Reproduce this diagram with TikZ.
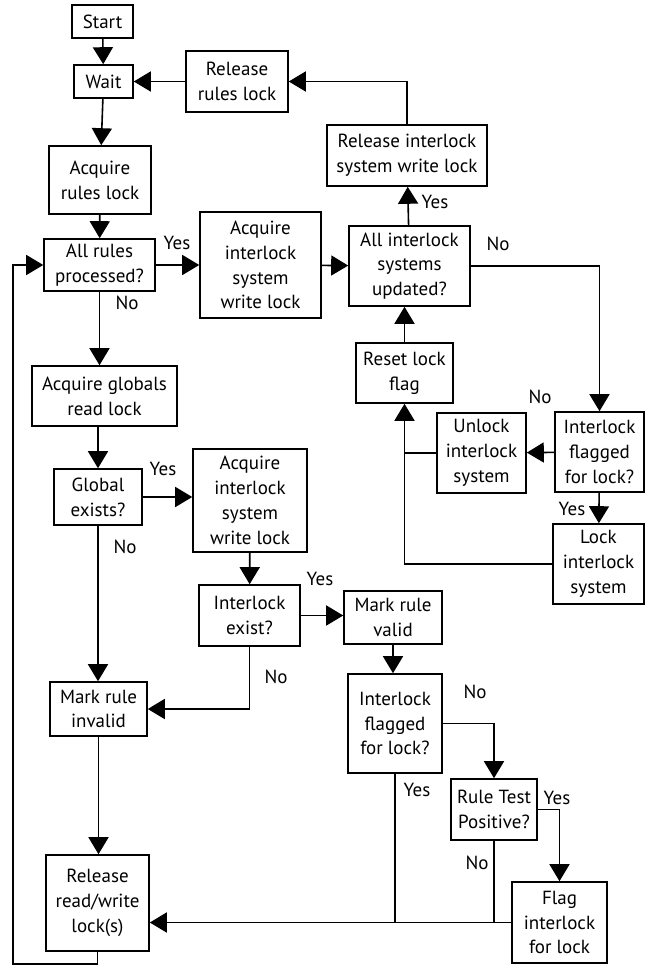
\documentclass[tikz,border=0pt]{standalone}
\usepackage{fontspec}
\setmainfont{PT Sans}
\usepackage{tikz}
\usetikzlibrary {arrows.meta}

\tikzset{
  box/.style={draw, black, line width=0.8pt, align=center, inner sep=0pt, font=\fontsize{9.5}{12.4}\selectfont},
  lbl/.style={black, inner sep=0pt, font=\fontsize{9.5}{12.4}\selectfont},
  flow/.style={line width=0.8pt, -{Triangle[length=8.5pt,width=10pt]}},
  link/.style={line width=0.8pt},
}

\begin{document}
\begin{tikzpicture}[x=0.5pt,y=-0.5pt]
\fill[white] (0,0) rectangle (644,968);
\useasboundingbox (0,0) rectangle (644,968);
% main column
\path (102.5,21.5) node (start) [box, minimum width=30.5pt, minimum height=16.5pt] {Start};
\path (103.5,81.5) node (wait) [box, minimum width=29.5pt, minimum height=16.5pt] {Wait};
\path (237,81.5) node (relrules) [box, minimum width=51pt, minimum height=30.5pt] {Release\\rules lock};
\path (100,180) node (acqrules) [box, minimum width=51pt, minimum height=34pt] {Acquire\\rules lock};
\path (99.5,265) node (allrules) [box, minimum width=55.5pt, minimum height=26pt] {All rules\\processed?};
\path (260.5,265) node (acqsys) [box, minimum width=60.5pt, minimum height=53pt] {Acquire\\interlock\\system\\write lock};
\path (407,155.5) node (relsys) [box, minimum width=80pt, minimum height=30.5pt] {Release interlock\\system write lock};
\path (409.5,266) node (allsys) [box, minimum width=60.5pt, minimum height=40pt] {All interlock\\systems\\updated?};
\path (404.5,373) node (reset) [box, minimum width=48.5pt, minimum height=30pt] {Reset lock\\flag};
\path (599.5,452) node (flagged1) [box, minimum width=44.5pt, minimum height=40pt] {Interlock\\flagged\\for lock?};
\path (481.5,453) node (unlock) [box, minimum width=44.5pt, minimum height=40pt] {Unlock\\interlock\\system};
\path (598.5,564) node (lock) [box, minimum width=45.5pt, minimum height=40pt] {Lock\\interlock\\system};
% per rule
\path (104.5,396) node (acqglob) [box, minimum width=72.5pt, minimum height=30pt] {Acquire globals\\read lock};
\path (98,497) node (global) [box, minimum width=44pt, minimum height=28pt] {Global\\exists?};
\path (250,500.5) node (acqsys2) [box, minimum width=57pt, minimum height=51.5pt] {Acquire\\interlock\\system\\write lock};
\path (249.5,615.5) node (ilexist) [box, minimum width=50.5pt, minimum height=30.5pt] {Interlock\\exist?};
\path (393,617.5) node (markvalid) [box, minimum width=49pt, minimum height=26.5pt] {Mark rule\\valid};
\path (98.5,709) node (markinvalid) [box, minimum width=48.5pt, minimum height=27pt] {Mark rule\\invalid};
\path (395,723.5) node (flagged2) [box, minimum width=47pt, minimum height=49.5pt] {Interlock\\flagged\\for lock?};
\path (494,809.5) node (ruletest) [box, minimum width=43pt, minimum height=30.5pt] {Rule Test\\Positive?};
\path (559.5,922.5) node (flagil) [box, minimum width=47.5pt, minimum height=40.5pt] {Flag\\interlock\\for lock};
\path (97.5,903) node (release) [box, minimum width=51.5pt, minimum height=48pt] {Release\\read/write\\lock(s)};
\coordinate (loopc) at (13,964);

% yes / no
\path (177,243) node (yes1) [lbl] {Yes};
\path (127,303) node (no1) [lbl] {No};
\path (435,202) node (yes2) [lbl] {Yes};
\path (498,244) node (no2) [lbl] {No};
\path (540,397) node (no3) [lbl] {No};
\path (572,509) node (yes3) [lbl] {Yes};
\path (163,469) node (yes4) [lbl] {Yes};
\path (125,547) node (no4) [lbl] {No};
\path (320,579) node (yes5) [lbl] {Yes};
\path (276,677) node (no5) [lbl] {No};
\path (475,692) node (no6) [lbl] {No};
\path (417,790) node (yes6) [lbl] {Yes};
\path (557,798) node (yes7) [lbl] {Yes};
\path (477,863) node (no7) [lbl] {No};

\draw[flow] (start) -- (wait);
\draw[flow] (relrules) -- (wait);
\draw[flow] (wait) -- (acqrules);
\draw[flow] (acqrules) -- (allrules);
\draw[flow] (allrules) -- (acqsys);
\draw[flow] (acqsys) -- (allsys);
\draw[flow] (allsys) -- (relsys);
\draw[flow] (relsys.north) |- (relrules.east);
\draw[flow] (allsys.east) -| (flagged1.north);
\draw[flow] (flagged1) -- (unlock);
\draw[flow] (flagged1) -- (lock);
\draw[link] (unlock.west) -- (unlock.west -| reset.south);
\draw[flow] (lock.west) -| (reset.south);
\draw[flow] (reset.north) -- (reset.north |- allsys.south);
\draw[flow] (allrules.south) -- (allrules.south |- acqglob.north);
\draw[flow] (global.north |- acqglob.south) -- (global.north);
\draw[flow] (global.east) -- (global.east -| acqsys2.west);
\draw[flow] (global.south) -- (global.south |- markinvalid.north);
\draw[flow] (acqsys2) -- (ilexist);
\draw[flow] (ilexist.east) -- (ilexist.east -| markvalid.west);
\draw[flow] (ilexist.south) |- (markinvalid.east);
\draw[flow] (markvalid.south) -- (markvalid.south |- flagged2.north);
\draw[flow] (flagged2.east) -| (ruletest.north);
\draw[flow] (ruletest.east) -| (flagil.north);
\draw[flow] (markinvalid.south) -- (markinvalid.south |- release.north);
\draw[flow] (flagil.west) -- (flagil.west -| release.east);
\draw[link] (flagged2.south) -- (flagged2.south |- flagil.west);
\draw[link] (ruletest.south) -- (ruletest.south |- flagil.west);
\draw[flow] (release.south) |- (loopc) |- (allrules.west);
\end{tikzpicture}
\end{document}
